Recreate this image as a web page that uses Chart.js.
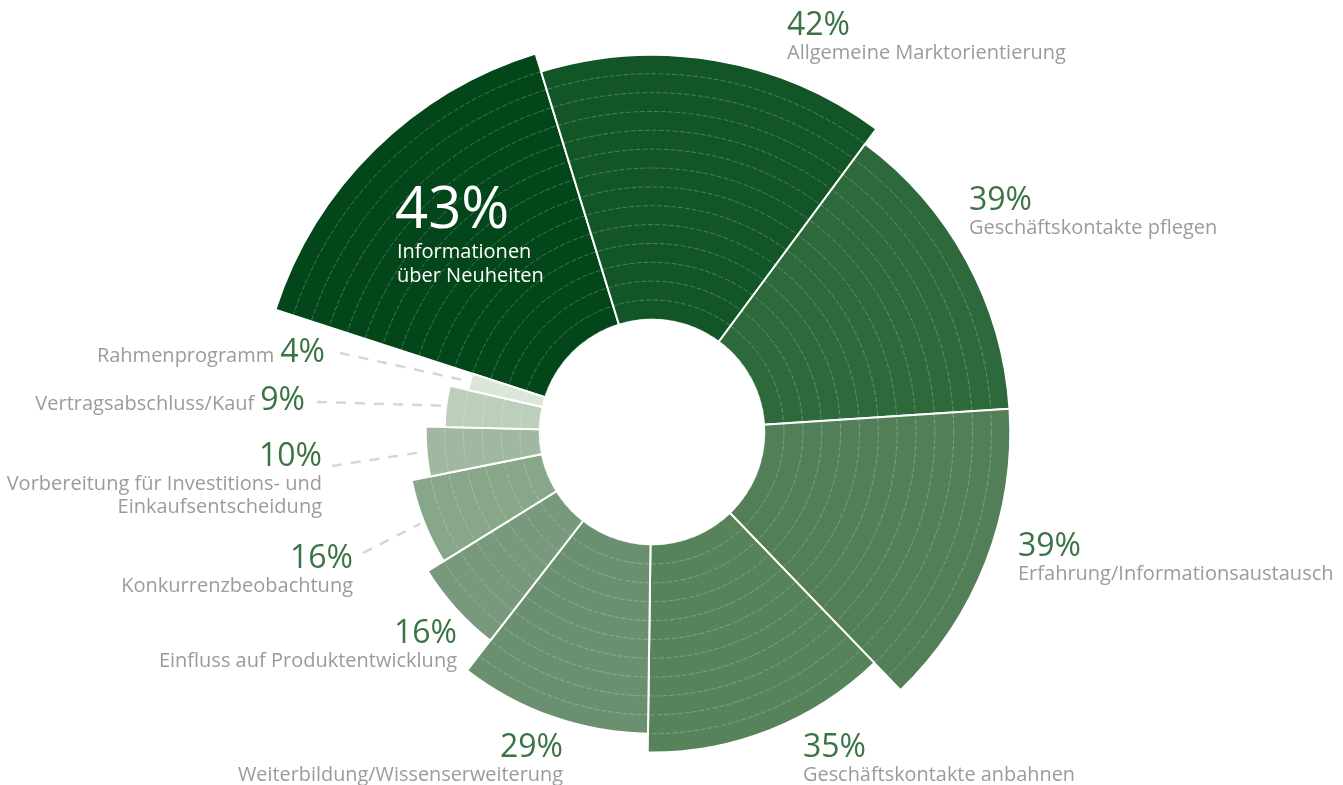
<!DOCTYPE html>
<html lang="de">
<head>
<meta charset="UTF-8">
<title>Messebesuch - Ziele</title>
<script src="https://cdn.jsdelivr.net/npm/chart.js"></script>
<style>
  html, body { margin: 0; padding: 0; background: #fff; overflow: hidden; }
  canvas { display: block; }
</style>
</head>
<body>
<canvas id="chart" width="1343" height="840"></canvas>
<script>
// categories (multi-line labels as arrays)
const categories = [
    ['Informationen', 'über Neuheiten'],
    ['Allgemeine Marktorientierung'],
    ['Geschäftskontakte pflegen'],
    ['Erfahrung/Informationsaustausch'],
    ['Geschäftskontakte anbahnen'],
    ['Weiterbildung/Wissenserweiterung'],
    ['Einfluss auf Produktentwicklung'],
    ['Konkurrenzbeobachtung'],
    ['Vorbereitung für Investitions- und', 'Einkaufsentscheidung'],
    ['Vertragsabschluss/Kauf'],
    ['Rahmenprogramm']
];
// share in percent -> angular width of each slice
const shares = [43, 42, 39, 39, 35, 29, 16, 16, 10, 9, 4];
// radial length of each slice, counted in rings
const ringLevels = [15, 14, 13, 13, 11, 10, 8, 7, 6, 5, 4];

const colors = ['#03461a', '#125526', '#2e693b', '#527f58', '#568359', '#6b9070',
                '#78997b', '#88a688', '#a0b89f', '#bccfbb', '#dbe5d8'];

const total = shares.reduce((a, b) => a + b, 0);

// label placement (x, baseline y of the percentage)
const labelLayout = [
    { x: 397, y: 228, align: 'left', inside: true },
    { x: 787, y: 35, align: 'left' },
    { x: 969, y: 210, align: 'left' },
    { x: 1018, y: 556, align: 'left' },
    { x: 803, y: 757, align: 'left', maxW: 272 },
    { x: 563, y: 757, align: 'right', maxW: 325 },
    { x: 457, y: 643, align: 'right' },
    { x: 353, y: 568, align: 'right', leader: [363, 553] },
    { x: 322, y: 466, align: 'right', leader: [332, 466] },
    { x: 305, y: 410, align: 'right', inline: true, leader: [317, 402] },
    { x: 325, y: 362, align: 'right', inline: true, leader: [340, 353] }
];

const FONT = '"Open Sans", "Noto Sans", sans-serif';
const GREEN = '#3a7444';
const GREY = '#9b9b9f';
const PCT_FONT = '32px ' + FONT;
const TXT_FONT = '20px ' + FONT;

const labelPlugin = {
    id: 'sliceLabels',
    afterDraw(chart) {
        const ctx = chart.ctx;
        const scale = chart.scales.r;
        const cx = scale.xCenter, cy = scale.yCenter;
        ctx.save();

        // white hole in the middle
        ctx.fillStyle = '#fff';
        ctx.beginPath();
        ctx.arc(cx, cy, scale.getDistanceFromCenterForValue(0), 0, Math.PI * 2);
        ctx.fill();

        const arcs = chart.getDatasetMeta(0).data;
        ctx.textBaseline = 'alphabetic';

        labelLayout.forEach((lay, i) => {
            const pct = shares[i] + '%';
            const lines = categories[i];

            if (lay.leader) {
                const a = arcs[i];
                const mid = (a.startAngle + a.endAngle) / 2;
                const r = a.outerRadius + 4;
                ctx.strokeStyle = '#d6d6d6';
                ctx.lineWidth = 2.5;
                ctx.setLineDash([10, 9]);
                ctx.beginPath();
                ctx.moveTo(lay.leader[0], lay.leader[1]);
                ctx.lineTo(cx + Math.cos(mid) * r, cy + Math.sin(mid) * r);
                ctx.stroke();
                ctx.setLineDash([]);
            }

            ctx.textAlign = lay.align;
            if (lay.inside) {
                ctx.fillStyle = '#fff';
                ctx.font = '58px ' + FONT;
                ctx.fillText(pct, lay.x - 2, lay.y);
                ctx.font = TXT_FONT;
                lines.forEach((t, k) => ctx.fillText(t, lay.x, lay.y + 30 + k * 24));
                return;
            }

            ctx.fillStyle = GREEN;
            ctx.font = PCT_FONT;
            ctx.fillText(pct, lay.x, lay.y);

            ctx.fillStyle = GREY;
            if (lay.inline) {
                const w = ctx.measureText(pct).width;
                ctx.font = TXT_FONT;
                ctx.fillText(lines[0], lay.x - w - 6, lay.y);
                return;
            }
            ctx.font = TXT_FONT;
            lines.forEach((t, k) => {
                const y = lay.y + 24 + k * 23;
                if (lay.maxW) ctx.fillText(t, lay.x, y, lay.maxW);
                else ctx.fillText(t, lay.x, y);
            });
        });
        ctx.restore();
    }
};

new Chart(document.getElementById('chart'), {
    type: 'polarArea',
    data: {
        labels: categories,
        datasets: [{
            data: ringLevels,
            angle: shares.map(s => s * 360 / total),
            backgroundColor: colors,
            borderColor: '#fff',
            borderWidth: 2
        }]
    },
    options: {
        responsive: false,
        animation: false,
        layout: { padding: { left: 0, right: 38, top: 36, bottom: 12 } },
        plugins: {
            legend: { display: false },
            tooltip: { enabled: false }
        },
        scales: {
            r: {
                min: -6,
                max: 15,
                startAngle: -72,
                z: 1,
                ticks: { display: false, stepSize: 1 },
                grid: { z: 1, color: 'rgba(255,255,255,0.24)', lineWidth: 1 },
                border: { dash: [5, 2] },
                angleLines: { display: false },
                pointLabels: { display: false }
            }
        }
    },
    plugins: [labelPlugin]
});
</script>
</body>
</html>
